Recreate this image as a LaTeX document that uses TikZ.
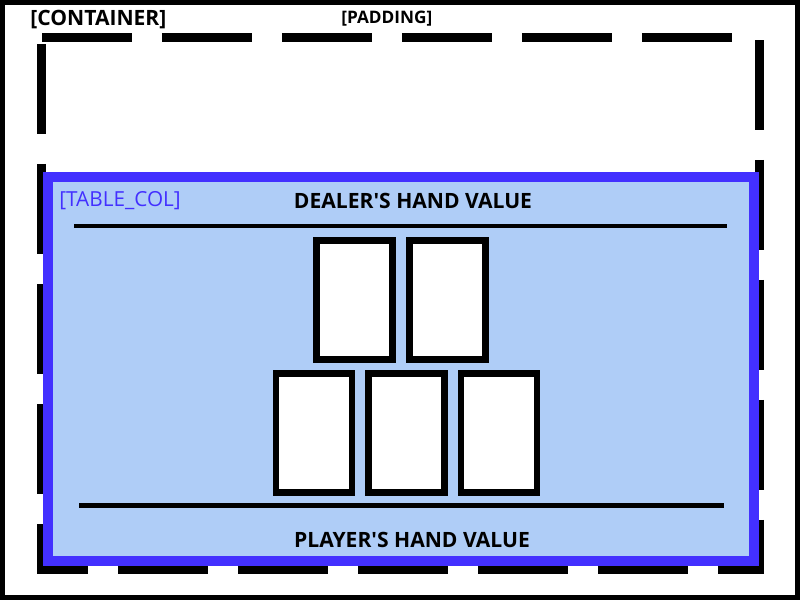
\documentclass[tikz,border=0pt]{standalone}
\usepackage{fontspec}
\setmainfont{Open Sans}
\usetikzlibrary{positioning}
\definecolor{ColBlue}{HTML}{4330FF}
\definecolor{ColFill}{HTML}{AFCDF7}

\begin{document}
\begin{tikzpicture}[x=0.02cm,y=-0.02cm,
    frame/.style={line width=0.1cm,draw=black},
    paddash/.style={line width=0.18cm,dash pattern=on 1.8cm off 0.6cm},
    rule/.style={line width=0.09cm},
    cardbox/.style={draw,fill=white,line width=0.13cm,minimum width=1.52cm,
      minimum height=2.38cm,inner sep=0pt},
    title/.style={font=\bfseries\fontsize{12}{14}\selectfont,inner sep=0pt},
    tag/.style={font=\fontsize{11.8}{13}\selectfont,inner sep=0pt,anchor=west},
    node distance=0.21cm
  ]
    \useasboundingbox (0,0) rectangle (800,600);
    % container and padding
    \draw[frame] (2.5,2.5) rectangle (797.5,597.5);
    \draw[paddash] (42,37.5)--(755,37.5);
    \draw[paddash] (759.5,40)--(759.5,573);
    \draw[paddash] (41.5,44)--(41.5,573);
    \draw[paddash,dash phase=0.78cm] (37,569)--(764,569);
    \node[tag,font=\bfseries\fontsize{12}{14}\selectfont] (container) at (30,20) {[CONTAINER]};
    \node[tag,font=\bfseries\fontsize{9.8}{11}\selectfont] (padding) at (341,19) {[PADDING]};
    % table column
    \draw[line width=0.2cm,draw=ColBlue,fill=ColFill] (48,177) rectangle (754,561);
    \node[tag,text=ColBlue] (tablecol) at (59,201) {[TABLE\_COL]};
    \node[title] (dealer) at (413,201) {DEALER\textquotesingle S HAND VALUE};
    \draw[rule] (74,226)--(727,226);
    \draw[rule] (79,505.5)--(724,505.5);
    \node[title] (player) at (412,540) {PLAYER\textquotesingle S HAND VALUE};
    % cards
    \node[cardbox] (dealercardA) at (354.7,300) {};
    \node[cardbox,right=of dealercardA] (dealercardB) {};
    \node[cardbox] (playercardB) at (406.5,433) {};
    \node[cardbox,left=0.2cm of playercardB] (playercardA) {};
    \node[cardbox,right=0.2cm of playercardB] (playercardC) {};
  \end{tikzpicture}
\end{document}
